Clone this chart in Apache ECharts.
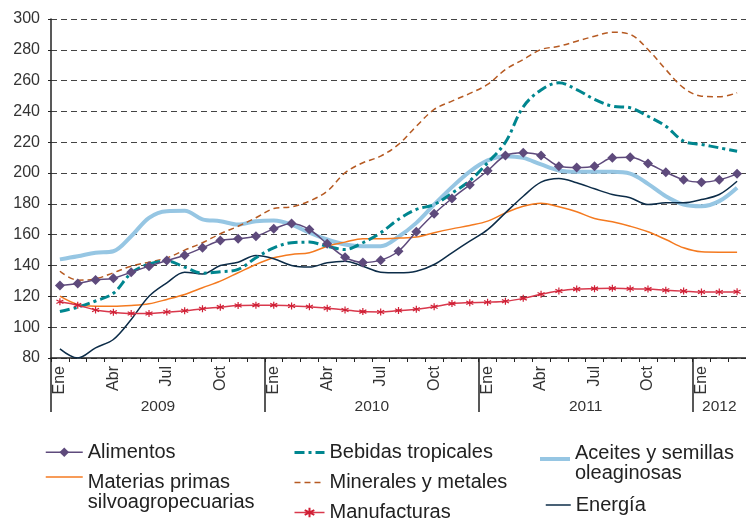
<!DOCTYPE html>
<html><head><meta charset="utf-8">
<script src="https://cdn.jsdelivr.net/npm/echarts@6/dist/echarts.min.js"></script>
<style>html,body{margin:0;padding:0;background:#fff}#c{width:746px;height:520px}</style>
</head><body><div id="c"></div>
<script>
const categories = [
  'Ene 2009','Feb 2009','Mar 2009','Abr 2009','May 2009','Jun 2009','Jul 2009','Ago 2009','Sep 2009','Oct 2009','Nov 2009','Dic 2009',
  'Ene 2010','Feb 2010','Mar 2010','Abr 2010','May 2010','Jun 2010','Jul 2010','Ago 2010','Sep 2010','Oct 2010','Nov 2010','Dic 2010',
  'Ene 2011','Feb 2011','Mar 2011','Abr 2011','May 2011','Jun 2011','Jul 2011','Ago 2011','Sep 2011','Oct 2011','Nov 2011','Dic 2011',
  'Ene 2012','Feb 2012','Mar 2012'
];
const shownMonths = ['Ene','Abr','Jul','Oct'];
const years = ['2009','2010','2011','2012'];

const alimentos = [127.0,128.4,130.7,131.8,135.7,139.6,143.3,146.7,151.5,156.3,157.4,159.0,163.8,167.3,163.4,154.1,145.4,142.0,143.5,149.3,161.9,173.6,183.5,192.4,201.5,211.4,213.2,211.4,204.5,203.6,204.5,209.9,210.3,206.2,200.6,195.6,194.1,195.6,199.5];
const bebidas = [110.2,113,117,122,135,141,143,139,135,136,137.5,145,151.5,154.8,155.2,152.5,150.4,154.8,161.3,170,176.4,179.6,187,195,206.7,220,243,254,258.6,254.2,247.8,243.4,242.4,236.9,230.4,220.7,218.6,216.4,214.2];
const aceites = [144,146,148.3,149.3,159,171,175.3,175.5,170,168.8,166.6,168.8,169.2,166.6,161.3,156.9,153.7,152.5,152.5,158.7,167.7,179.6,190.9,201,208.2,211,209.9,205.6,201.7,200.8,200.8,200.8,199.7,193,185,179.6,178.5,181.8,190.5];
const materias = [120.1,114.7,113.6,113.6,114.1,115.2,118,121.2,125.6,129.9,135.3,140.7,145,147.2,148.3,152.5,155.2,157.4,157.4,157.8,158.5,161.3,163.8,166,168.8,174.2,178.5,180.5,178.1,174.9,170.5,168.4,165.5,161.9,156.9,151.5,148.9,148.7,148.7];
const minerales = [136.3,130.5,131.4,135.3,139.6,142.2,145,150,154.8,160.6,165.5,171,177,178.1,181.8,188.3,200.2,206.7,211,218.6,230.4,241.3,246.7,251.7,257.5,267.2,273.7,280.2,282.3,285.6,288.8,291.4,290,280.2,267.2,255.3,249.9,249.5,252.1];
const manufacturas = [116.5,114.3,111.2,109.7,108.9,108.9,109.8,110.7,112,113,114.1,114.3,114.3,113.8,113.3,112.3,111.2,110.1,109.9,110.8,111.6,113.3,115.3,115.9,116.2,116.8,118.7,121.4,123.5,124.7,125,125.2,124.9,124.7,124,123.4,122.8,122.8,123];
const energia = [85.9,80,86.6,92,105,120.1,128.8,135.7,134.5,140,142.2,146.5,144.4,140,139,141.8,142.8,139.6,135.7,135.3,136.3,140.7,148.3,155.8,163.3,174.2,185,194.1,196.5,193.7,189.8,186.1,184,179.6,180.7,180.7,182.8,186.1,194.7];

const names = {
  alimentos: 'Alimentos',
  materias: 'Materias primas\nsilvoagropecuarias',
  bebidas: 'Bebidas tropicales',
  minerales: 'Minerales y metales',
  manufacturas: 'Manufacturas',
  aceites: 'Aceites y semillas\noleaginosas',
  energia: 'Energía'
};

// year boundaries derived from the categories
const yearStarts = [];
categories.forEach((c, i) => { if (c.startsWith('Ene')) yearStarts.push(i); });
const yearMids = yearStarts.map((s, k) => (s + (k + 1 < yearStarts.length ? yearStarts[k + 1] : categories.length)) / 2);

const FONT = '"Liberation Sans", Arial, sans-serif';
const asterisk = 'path://M5,0L5,10M0.7,2.5L9.3,7.5M9.3,2.5L0.7,7.5';

const lineOnly = n => ({name: n, itemStyle: {opacity: 0}});
const legendText = {fontSize: 20, lineHeight: 20, color: '#222', fontFamily: FONT};
const mkLegend = (o) => Object.assign({
  orient: 'vertical', height: 150, padding: 0, itemWidth: 30, itemHeight: 12, itemGap: 10, selectedMode: false,
  lineStyle: {width: 'inherit'}, textStyle: legendText
}, o);
// two-line legend entries: a blank spacer line above lifts the icon toward the first line
const spacedText = gap => Object.assign({}, legendText, {
  rich: {
    sp: {fontSize: Math.min(gap - 2, 20), lineHeight: gap, color: '#222', fontFamily: FONT},
    t: {fontSize: 20, lineHeight: 20, color: '#222', fontFamily: FONT}
  }
});
const spacedFormatter = n => '{sp|\u00a0}\n' + n.split('\n').map(s => '{t|' + s + '}').join('\n');

const chart = echarts.init(document.getElementById('c'), null, {renderer: 'canvas'});
chart.setOption({
  animation: false,
  backgroundColor: '#fff',
  grid: {left: 51, top: 19, right: -10, bottom: 162},
  legend: [
    mkLegend({left: 45, top: 442.3, itemWidth: 37, data: [names.alimentos]}),
    mkLegend({left: 45, top: 442, itemWidth: 37, textStyle: spacedText(30), formatter: spacedFormatter,
      data: [lineOnly(names.materias)]}),
    mkLegend({left: 293, top: 442.5, data: [lineOnly(names.bebidas), lineOnly(names.minerales), names.manufacturas]}),
    mkLegend({left: 538, top: 435, itemWidth: 30, textStyle: spacedText(8), formatter: spacedFormatter,
      data: [lineOnly(names.aceites)]}),
    mkLegend({left: 545, top: 495, itemWidth: 25, data: [lineOnly(names.energia)]})
  ],
  xAxis: [
    {
      type: 'category', data: categories, boundaryGap: true,
      axisLine: {lineStyle: {color: '#222', width: 1.5}},
      axisTick: {show: true, interval: 0, length: 4, lineStyle: {color: '#222'}},
      axisLabel: {
        interval: 0, rotate: 90, margin: 8, fontSize: 16, color: '#333', fontFamily: FONT,
        formatter: v => { const m = v.split(' ')[0]; return shownMonths.includes(m) ? m : ''; }
      },
      splitLine: {show: false}
    },
    {
      type: 'value', min: 0, max: categories.length, position: 'bottom',
      axisLine: {show: false}, splitLine: {show: false},
      axisTick: {show: true, customValues: yearStarts, length: 54, lineStyle: {color: '#222', width: 1.5}},
      axisLabel: {
        customValues: yearMids, margin: 41, fontSize: 15.5, color: '#333', fontFamily: FONT,
        formatter: v => { const k = yearMids.indexOf(v); return k >= 0 ? years[k] : ''; }
      }
    }
  ],
  yAxis: {
    type: 'value', min: 80, max: 300, interval: 20,
    axisLine: {show: true, lineStyle: {color: '#222', width: 1.5}},
    axisTick: {show: true, length: 3, lineStyle: {color: '#222'}},
    axisLabel: {fontSize: 16, color: '#333', margin: 11, fontFamily: FONT},
    splitLine: {lineStyle: {color: '#444', type: [6, 4], width: 1}}
  },
  series: [
    {name: names.aceites, type: 'line', data: aceites, smooth: 0.35, symbol: 'none',
     lineStyle: {color: '#96c6e3', width: 4}, itemStyle: {color: '#96c6e3'}},
    {name: names.materias, type: 'line', data: materias, smooth: 0.35, symbol: 'none',
     lineStyle: {color: '#f47a20', width: 1.5}, itemStyle: {color: '#f47a20'}},
    {name: names.minerales, type: 'line', data: minerales, smooth: 0.35, symbol: 'none',
     lineStyle: {color: '#b65a22', width: 1.5, type: [6, 4]}, itemStyle: {color: '#b65a22'}},
    {name: names.energia, type: 'line', data: energia, smooth: 0.35, symbol: 'none',
     lineStyle: {color: '#0c2c48', width: 1.5}, itemStyle: {color: '#0c2c48'}},
    {name: names.bebidas, type: 'line', data: bebidas, smooth: 0.35, symbol: 'none',
     lineStyle: {color: '#00868f', width: 3, type: [10, 4, 3, 4]}, itemStyle: {color: '#00868f'}},
    {name: names.manufacturas, type: 'line', data: manufacturas, smooth: 0.35,
     symbol: asterisk, symbolSize: 7, showSymbol: true,
     lineStyle: {color: '#d9384c', width: 1.5},
     itemStyle: {color: '#d01f35', borderColor: '#d01f35', borderWidth: 1.2}},
    {name: names.alimentos, type: 'line', data: alimentos, smooth: 0.35,
     symbol: 'diamond', symbolSize: 10, showSymbol: true,
     lineStyle: {color: '#5e4a7c', width: 1.5}, itemStyle: {color: '#5e4a7c'}}
  ]
});
</script></body></html>
